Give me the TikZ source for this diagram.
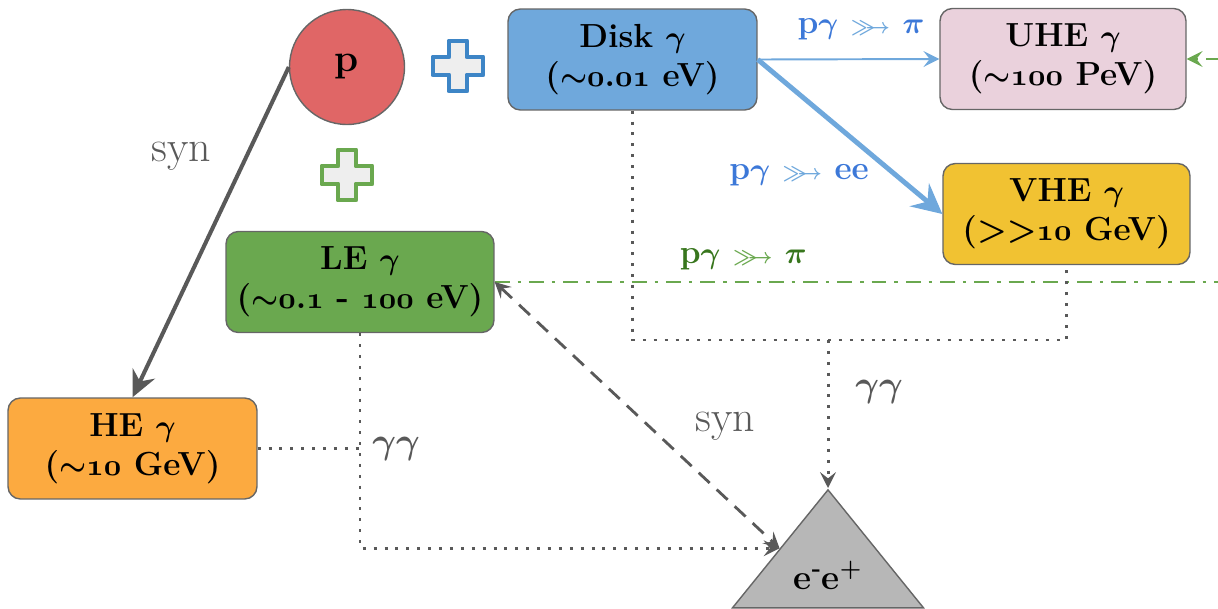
\documentclass[tikz,border=0pt]{standalone}
\usepackage{amsmath}
\usepackage{amssymb}
\usepackage{tikz}
\usetikzlibrary{shapes.geometric,arrows.meta}

\definecolor{pred}{HTML}{E06666}
\definecolor{diskblue}{HTML}{6FA8DC}
\definecolor{uhepink}{HTML}{EAD1DC}
\definecolor{vheyellow}{HTML}{F1C232}
\definecolor{legreen}{HTML}{6AA84F}
\definecolor{heorange}{HTML}{FCAA40}
\definecolor{trigray}{HTML}{B7B7B7}
\definecolor{linegray}{HTML}{666666}
\definecolor{arrowgray}{HTML}{595959}
\definecolor{textblue}{HTML}{3C78D8}
\definecolor{textgreen}{HTML}{38761D}
\definecolor{plusblue}{HTML}{3D85C6}
\definecolor{plusfill}{HTML}{EEEEEE}

\newcommand{\osn}[1]{{\usefont{OML}{cmm}{b}{it}#1}}
\newcommand{\feather}{\scalebox{0.7}{$\gg\mkern-7mu\rightarrow$}}

\begin{document}
\begin{tikzpicture}[x=0.02cm,y=-0.02cm]
  \tikzstyle{box}=[draw=linegray,line width=0.8pt,rounded corners=7pt,minimum height=2.02cm,align=center,font=\fontsize{19}{22}\selectfont\bfseries\boldmath]
  \tikzstyle{tri}=[draw=linegray,fill=trigray,line width=0.8pt,isosceles triangle,shape border rotate=90,isosceles triangle stretches,minimum width=3.82cm,minimum height=2.36cm,inner sep=0pt,font=\fontsize{20}{24}\selectfont\bfseries]
  \tikzstyle{dots}=[draw=arrowgray,line width=1.7pt,dash pattern=on 1.7pt off 4.5pt]
  \tikzstyle{smalltip}=[-{Stealth[length=9pt,width=9pt,inset=3.5pt]}]
  \tikzstyle{synlabel}=[text=arrowgray,font=\fontsize{25}{28}\selectfont]
  \tikzstyle{yylabel}=[text=arrowgray,font=\fontsize{22}{26}\selectfont\boldmath]
  \tikzstyle{pylabel}=[font=\fontsize{19}{22}\selectfont\bfseries\boldmath]
  \tikzset{plussign/.pic={
    \draw[pic actions,line width=2.8pt,line join=round] (-9,-25) -- (9,-25) -- (9,-9) -- (25,-9) -- (25,9) -- (9,9)
      -- (9,25) -- (-9,25) -- (-9,9) -- (-25,9) -- (-25,-9) -- (-9,-9) -- cycle;}}

  \useasboundingbox (0,0) rectangle (1218,609);

  \node[circle,draw=linegray,line width=0.8pt,fill=pred,minimum size=2.3cm,font=\fontsize{22}{24}\selectfont\bfseries] (p) at (347,67) {p};
  \node[box,fill=diskblue,minimum width=4.98cm]  (disk) at (632.5,59.5) {Disk $\gamma$\\($\sim$\osn{0}.\osn{01} eV)};
  \node[box,fill=uhepink,minimum width=4.92cm]   (uhe)  at (1063,59)    {UHE $\gamma$\\($\sim$\osn{100} PeV)};
  \node[box,fill=vheyellow,minimum width=4.94cm] (vhe)  at (1066.5,214) {VHE $\gamma$\\(>{}>\osn{10} GeV)};
  \node[box,fill=legreen,minimum width=5.36cm]   (le)   at (360,282)    {LE $\gamma$\\($\sim$\osn{0}.\osn{1} - \osn{100} eV)};
  \node[box,fill=heorange,minimum width=4.98cm]  (he)   at (132.5,448.5) {HE $\gamma$\\($\sim$\osn{10} GeV)};
  \node[tri,anchor=apex] (ee) at (828,488) {e\textsuperscript{-}e\textsuperscript{+}};

  \pic[draw=plusblue,fill=plusfill] at (458,66) {plussign};
  \pic[draw=legreen,fill=plusfill] at (347,175) {plussign};

  % proton channels
  \draw[draw=arrowgray,line width=2.3pt,-{Stealth[length=15pt,width=14pt,inset=5pt]}] (p.west) -- node[pos=0.27,left=0.55cm,synlabel] {syn} (he.north);
  \draw[draw=diskblue,line width=1.1pt,smalltip] (disk.east) -- node[pylabel,text=textblue,above=0.25cm,xshift=0.25cm] {p$\gamma$ {\color{diskblue}\feather} $\pi$} (uhe.west);
  \draw[draw=diskblue,line width=2.8pt,-{Stealth[length=17pt,width=17pt,inset=6pt]}] (disk.east) -- node[pylabel,text=textblue,pos=0.75,anchor=east,xshift=-0.38cm] {p$\gamma$ {\color{diskblue}\feather} ee} (vhe.west);
  \draw[draw=legreen,line width=1.7pt,dash pattern=on 8.5pt off 4.5pt on 2pt off 4.5pt,smalltip] (le.east) -- node[pylabel,text=textgreen,pos=0.34,above=0.1cm] {p$\gamma$ {\color{legreen}\feather} $\pi$} (1226,282) |- (uhe.east);

  % pair production
  \coordinate (yy) at (828,340);
  \draw[dots] (disk.south) |- (yy) -| (vhe.south);
  \draw[dots,smalltip] (yy) -- node[pos=0.35,right=0.4cm,yylabel] {$\gamma\gamma$} (ee.apex);
  \draw[dots,smalltip] (le.south) |- (ee.left side);
  \draw[dots] (he.east) -- node[at end,right=0.1cm,yylabel] {$\gamma\gamma$} (le.south |- he.east);
  \draw[draw=arrowgray,line width=1.6pt,dash pattern=on 8.5pt off 5.5pt,{Stealth[length=9pt,width=9pt,inset=3.5pt]}-{Stealth[length=9pt,width=9pt,inset=3.5pt]}] (le.east) -- node[pos=0.54,right=0.8cm,synlabel] {syn} (ee.left side);

\end{tikzpicture}
\end{document}
